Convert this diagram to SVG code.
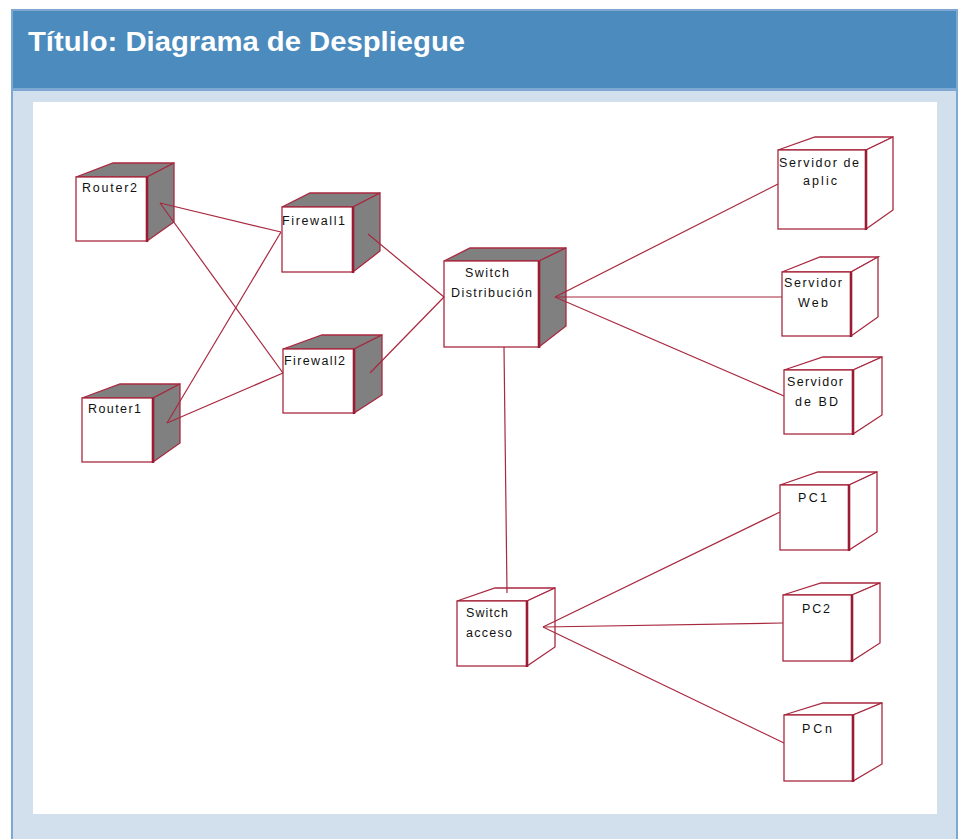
<svg xmlns="http://www.w3.org/2000/svg" width="959" height="839" viewBox="0 0 959 839">
  <style>
    .frame { fill: #D2E0ED; stroke: #7DA8D2; stroke-width: 2; }
    .titlebar { fill: #4B8BBE; }
    .title { font-family: "Liberation Sans", Arial, sans-serif; font-weight: bold; font-size: 27px; fill: #FFFFFF; }
    .face { fill: #FFFFFF; stroke: #A8283F; stroke-width: 1.3; stroke-linejoin: miter; }
    .shade { fill: #808080; stroke: #A8283F; stroke-width: 1.3; }
    .edge { stroke: #9B1B35; stroke-width: 2.6; }
    .label { font-family: "Liberation Sans", Arial, sans-serif; font-size: 12.5px; fill: #111111; }
    .link { stroke: #A8283F; stroke-width: 1.2; fill: none; }
  </style>

  <!-- page panel -->
  <rect class="frame" x="12" y="10" width="945" height="840"/>
  <rect class="titlebar" x="13" y="11" width="943" height="77"/>
  <line x1="13" y1="89.5" x2="956" y2="89.5" stroke="#7DA8D2" stroke-width="3"/>
  <text class="title" x="28" y="51" textLength="437" lengthAdjust="spacingAndGlyphs">Título: Diagrama de Despliegue</text>
  <rect x="33" y="102" width="904" height="712" fill="#FFFFFF"/>

  <!-- shaded nodes (network gear) -->
  <g id="router2">
    <polygon class="shade" points="76,177 113,163 174,163 147,177"/>
    <polygon class="shade" points="147,177 174,163 174,222 147,241"/>
    <rect class="face" x="76" y="177" width="71" height="64"/>
    <line class="edge" x1="147" y1="177" x2="147" y2="242"/>
    <text class="label" x="82" y="192" textLength="55">Router2</text>
  </g>
  <g id="firewall1">
    <polygon class="shade" points="282,207 310,193 380,193 353,207"/>
    <polygon class="shade" points="353,207 380,193 380,251 353,272"/>
    <rect class="face" x="282" y="207" width="71" height="65"/>
    <line class="edge" x1="353" y1="207" x2="353" y2="273"/>
    <text class="label" x="282" y="225" textLength="63">Firewall1</text>
  </g>
  <g id="firewall2">
    <polygon class="shade" points="283,349 322,335 382,335 354,349"/>
    <polygon class="shade" points="354,349 382,335 382,395 354,413"/>
    <rect class="face" x="283" y="349" width="71" height="64"/>
    <line class="edge" x1="354" y1="349" x2="354" y2="414"/>
    <text class="label" x="284" y="365" textLength="61">Firewall2</text>
  </g>
  <g id="router1">
    <polygon class="shade" points="82,398 120,384 180,384 153,398"/>
    <polygon class="shade" points="153,398 180,384 180,443 153,462"/>
    <rect class="face" x="82" y="398" width="71" height="64"/>
    <line class="edge" x1="153" y1="398" x2="153" y2="463"/>
    <text class="label" x="88" y="413" textLength="53">Router1</text>
  </g>
  <g id="switch-distribucion">
    <polygon class="shade" points="444,261 470,248 566,248 539,261"/>
    <polygon class="shade" points="539,261 566,248 566,326 539,347"/>
    <rect class="face" x="444" y="261" width="95" height="86"/>
    <line class="edge" x1="539" y1="261" x2="539" y2="348"/>
    <text class="label" x="465" y="277" textLength="44">Switch</text>
    <text class="label" x="451" y="297" textLength="81">Distribución</text>
  </g>

  <!-- plain nodes (servers, access switch, PCs) -->
  <g id="servidor-aplic">
    <polygon class="face" points="778,150 815,137 893,137 866,150"/>
    <polygon class="face" points="866,150 893,137 893,210 866,229"/>
    <rect class="face" x="778" y="150" width="88" height="79"/>
    <line class="edge" x1="866" y1="150" x2="866" y2="230"/>
    <text class="label" x="779" y="167" textLength="80">Servidor de</text>
    <text class="label" x="803" y="185" textLength="34">aplic</text>
  </g>
  <g id="servidor-web">
    <polygon class="face" points="782,272 820,257 878,257 851,272"/>
    <polygon class="face" points="851,272 878,257 878,317 851,336"/>
    <rect class="face" x="782" y="272" width="69" height="64"/>
    <line class="edge" x1="851" y1="272" x2="851" y2="337"/>
    <text class="label" x="784" y="287" textLength="58">Servidor</text>
    <text class="label" x="798" y="307" textLength="30">Web</text>
  </g>
  <g id="servidor-bd">
    <polygon class="face" points="784,370 823,357 882,357 853,370"/>
    <polygon class="face" points="853,370 882,357 882,415 853,434"/>
    <rect class="face" x="784" y="370" width="69" height="64"/>
    <line class="edge" x1="853" y1="370" x2="853" y2="435"/>
    <text class="label" x="787" y="386" textLength="56">Servidor</text>
    <text class="label" x="795" y="406" textLength="43">de BD</text>
  </g>
  <g id="switch-acceso">
    <polygon class="face" points="457,601 495,588 555,588 527,601"/>
    <polygon class="face" points="527,601 555,588 555,647 527,666"/>
    <rect class="face" x="457" y="601" width="70" height="65"/>
    <line class="edge" x1="527" y1="601" x2="527" y2="667"/>
    <text class="label" x="466" y="617" textLength="42">Switch</text>
    <text class="label" x="466" y="637" textLength="46">acceso</text>
  </g>
  <g id="pc1">
    <polygon class="face" points="780,485 818,472 877,472 849,485"/>
    <polygon class="face" points="849,485 877,472 877,532 849,550"/>
    <rect class="face" x="780" y="485" width="69" height="65"/>
    <line class="edge" x1="849" y1="485" x2="849" y2="551"/>
    <text class="label" x="798" y="502" textLength="29">PC1</text>
  </g>
  <g id="pc2">
    <polygon class="face" points="783,595 821,583 880,583 852,595"/>
    <polygon class="face" points="852,595 880,583 880,643 852,661"/>
    <rect class="face" x="783" y="595" width="69" height="66"/>
    <line class="edge" x1="852" y1="595" x2="852" y2="662"/>
    <text class="label" x="802" y="613" textLength="28">PC2</text>
  </g>
  <g id="pcn">
    <polygon class="face" points="784,715 823,703 882,703 853,715"/>
    <polygon class="face" points="853,715 882,703 882,764 853,781"/>
    <rect class="face" x="784" y="715" width="69" height="66"/>
    <line class="edge" x1="853" y1="715" x2="853" y2="782"/>
    <text class="label" x="802" y="733" textLength="30">PCn</text>
  </g>

  <!-- connectors, drawn over the node side faces they attach to -->
  <g id="connectors">
    <line class="link" x1="160" y1="203" x2="281" y2="232"/>
    <line class="link" x1="160" y1="203" x2="283" y2="373"/>
    <line class="link" x1="281" y1="232" x2="167" y2="423"/>
    <line class="link" x1="283" y1="373" x2="167" y2="423"/>
    <line class="link" x1="368" y1="234" x2="444" y2="297"/>
    <line class="link" x1="370" y1="373" x2="444" y2="297"/>
    <line class="link" x1="555" y1="297" x2="778" y2="184"/>
    <line class="link" x1="555" y1="297" x2="782" y2="297"/>
    <line class="link" x1="555" y1="297" x2="784" y2="396"/>
    <line class="link" x1="504" y1="347" x2="507" y2="593"/>
    <line class="link" x1="543" y1="627" x2="780" y2="512"/>
    <line class="link" x1="543" y1="627" x2="783" y2="623"/>
    <line class="link" x1="543" y1="627" x2="784" y2="743"/>
  </g>
</svg>
